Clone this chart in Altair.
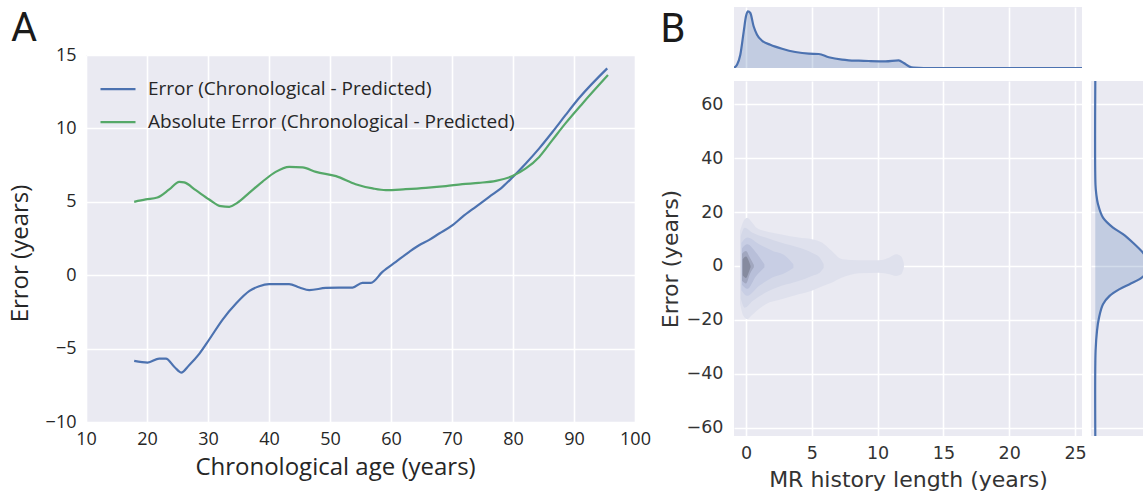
import altair as alt
import pandas as pd

BG = "#EAEAF2"
BLUE = "#4C72B0"
GREEN = "#55A868"
TXT = "#262626"

# ---------------- Panel A data ----------------
SERIES = ["Error (Chronological - Predicted)", "Absolute Error (Chronological - Predicted)"]
err_age = [17.9, 20.1, 22.0, 23.1, 24.5, 25.6, 26.9, 28.6, 30.2, 32.4, 34.6, 36.8, 38.4, 40.0, 43.3,
           45.0, 46.6, 49.3, 51.5, 53.7, 55.3, 56.7, 58.6, 60.8, 63.0, 64.6, 66.2, 67.9, 70.1, 71.7,
           73.9, 76.1, 78.3, 79.9, 82.1, 84.3, 86.5, 88.6, 90.8, 95.45]
err_val = [-5.84, -5.95, -5.68, -5.68, -6.25, -6.63, -6.13, -5.34, -4.38, -3.02, -1.93, -1.07, -0.75,
           -0.61, -0.61, -0.84, -1.02, -0.87, -0.84, -0.84, -0.52, -0.52, 0.23, 0.91, 1.59, 2.04, 2.39,
           2.84, 3.41, 3.97, 4.66, 5.34, 6.02, 6.66, 7.61, 8.64, 9.77, 10.9, 12.05, 14.09]
abs_age = [17.9, 19.8, 21.7, 23.65, 25.3, 26.1, 28.0, 30.2, 32.1, 33.5, 34.8, 36.75, 38.9, 41.1, 43.3,
           45.5, 47.7, 51.0, 54.2, 57.0, 59.15, 62.4, 65.7, 69.0, 71.7, 74.4, 77.2, 79.9, 82.1, 84.3,
           86.45, 88.6, 91.4, 95.57]
abs_val = [5.0, 5.16, 5.29, 5.84, 6.36, 6.32, 5.79, 5.16, 4.70, 4.66, 4.93, 5.61, 6.36, 7.04, 7.38,
           7.34, 7.04, 6.75, 6.2, 5.91, 5.79, 5.86, 5.95, 6.07, 6.2, 6.29, 6.43, 6.75, 7.27, 8.06,
           9.2, 10.34, 11.7, 13.63]
a_xticks = [10, 20, 30, 40, 50, 60, 70, 80, 90, 100]
a_yticks = [-10, -5, 0, 5, 10, 15]

# ---------------- Panel B data ----------------
# top marginal: KDE of MR history length (relative density units)
mr_len = [-0.94, -0.68, -0.43, -0.17, 0.0, 0.15, 0.33, 0.58, 0.84, 1.22, 1.85, 2.74, 3.75, 4.77, 5.53,
          6.29, 7.3, 7.81, 8.57, 9.33, 10.6, 11.6, 11.99, 12.37, 12.75, 13.5, 25.6]
mr_dens = [0, 3.3, 13.3, 36.7, 51.7, 56.7, 55, 41.7, 33.3, 27.3, 23.3, 19.3, 16, 14.3, 14,
           10.7, 8.3, 7.7, 7.3, 7, 6.7, 7.7, 5, 1.7, 0.3, 0, 0]
# right marginal: KDE of error (relative density units)
err_grid = [68.6, 30, 26.6, 22.9, 17.9, 14.2, 11.8, 8.6, 4.9, 3.3, 1.5, 0.0, -1.5, -3.1, -4.9, -6.8,
            -8.6, -11.1, -14.2, -19.2, -24.1, -31.5, -63.1]
err_dens = [0, 0.2, 1, 2.7, 7.7, 17.7, 27.7, 37.7, 47.7, 50.7, 56, 58, 56, 50.7, 44.3, 34.3,
            24.3, 14.3, 7.7, 3.7, 1.7, 0.3, 0]
# bivariate KDE contour levels: (MR length, upper error, lower error)
lev1_x = [-0.45, -0.2, 0.1, 0.4, 0.8, 1.5, 2.7, 4.0, 5.0, 5.8, 6.5, 7.3, 8.6, 10.1, 10.9, 11.4, 11.8, 12.0]
lev1_hi = [13, 16.5, 17.9, 16.5, 14.2, 12.9, 11.7, 10.5, 9.9, 8.6, 5.6, 2.5, 2.1, 2.1, 3.1, 4.3, 3.5, 0.8]
lev1_lo = [-14, -18.5, -19.8, -18.5, -16.7, -14.2, -12.4, -10.5, -9.2, -7.5, -6.2, -4.3, -2.7, -2.5,
           -3.1, -3.7, -3.1, -0.5]
lev2_x = [-0.4, -0.1, 0.5, 1.5, 2.7, 4.0, 5.0, 5.6, 5.9]
lev2_hi = [11, 14.2, 12.3, 10.5, 8.6, 6.8, 4.9, 3.1, 0.6]
lev2_lo = [-12, -15.5, -13.0, -9.9, -7.4, -5.6, -3.7, -2.5, -0.8]
lev3_x = [-0.35, 0.1, 1.0, 2.0, 3.0, 3.6]
lev3_hi = [8.5, 10.5, 8.0, 5.6, 3.7, 0.6]
lev3_lo = [-9, -11.1, -7.4, -4.3, -2.5, -0.8]
lev4_x = [-0.3, 0.1, 0.77, 1.4]
lev4_hi = [6.5, 8.0, 4.9, 0.6]
lev4_lo = [-7.0, -8.5, -3.7, -0.6]
lev5_x = [-0.3, 0.0, 0.3, 0.6]
lev5_hi = [4.5, 5.5, 3.0, 0.3]
lev5_lo = [-5.5, -6.5, -3.0, -0.5]
lev6_x = [-0.25, 0.0, 0.2, 0.35]
lev6_hi = [2.5, 3.5, 2.0, 0.0]
lev6_lo = [-3.5, -4.5, -2.5, -0.5]
LEVEL_COLORS = ["#dfe1ed", "#d4d8e8", "#c8cee4", "#b8bfd9", "#a1a7bf", "#868b9f"]
b_xticks = [0, 5, 10, 15, 20, 25]
b_yticks = [-60, -40, -20, 0, 20, 40, 60]

# ---------------- Panel A ----------------
dfA = pd.concat([
    pd.DataFrame({"age": err_age, "val": err_val, "series": SERIES[0]}),
    pd.DataFrame({"age": abs_age, "val": abs_val, "series": SERIES[1]}),
])

A_W, A_H = 549, 367
fontA = "Open Sans"
fontB = "DejaVu Sans"
fontLetter = "Roboto"

linesA = alt.Chart(dfA).mark_line(strokeWidth=2.2, interpolate="monotone").encode(
    x=alt.X("age:Q", scale=alt.Scale(domain=[10, 100], nice=False, zero=False),
            axis=alt.Axis(values=a_xticks, title="Chronological age (years)", grid=True,
                          gridColor="white", gridWidth=1.6, domain=False, ticks=False,
                          labelFont=fontA, labelFontSize=18, labelColor=TXT, labelPadding=8,
                          labelFlush=False, labelOverlap=False,
                          titleFont=fontA, titleFontSize=24, titleFontWeight="normal",
                          titleColor=TXT, titlePadding=7, titleX=249)),
    y=alt.Y("val:Q", scale=alt.Scale(domain=[-10, 15], nice=False, zero=False),
            axis=alt.Axis(values=a_yticks, title="Error (years)", grid=True,
                          gridColor="white", gridWidth=1.6, domain=False, ticks=False,
                          labelFont=fontA, labelFontSize=18, labelColor=TXT, labelPadding=10,
                          labelFlush=False, labelOverlap=False,
                          titleFont=fontA, titleFontSize=24, titleFontWeight="normal",
                          titleColor=TXT, titlePadding=13, titleY=198)),
    color=alt.Color("series:N", scale=alt.Scale(domain=SERIES, range=[BLUE, GREEN]),
                    legend=alt.Legend(title=None, orient="none", legendX=13, legendY=66,
                                      symbolType="stroke", symbolSize=1225, symbolStrokeWidth=2.2,
                                      labelFont=fontA, labelFontSize=19, labelColor=TXT,
                                      labelOffset=11, rowPadding=0, clipHeight=32.4,
                                      padding=0, labelLimit=500)),
)

letterA = alt.Chart(pd.DataFrame({"t": ["A"]})).mark_text(
    font=fontLetter, fontSize=40, color="#1a1a1a", align="center", baseline="middle"
).encode(x=alt.value(-62), y=alt.value(-26), text="t:N")

A_main = alt.layer(linesA, letterA).properties(
    width=A_W, height=A_H, view=alt.ViewBackground(fill=BG, strokeWidth=0))

spacer = alt.Chart(pd.DataFrame({"v": [0]})).mark_point(opacity=0, size=1).encode(
    x=alt.value(0), y=alt.value(0)).properties(width=A_W, height=1)

panelA = alt.vconcat(spacer, A_main, spacing=1)

# ---------------- Panel B ----------------
BX_DOM = [-0.91, 25.53]
BY_DOM = [-63.1, 68.6]
B_W, B_H = 348, 355

def grid_axis(vals):
    return alt.Axis(values=vals, labels=False, ticks=False, domain=False, title=None,
                    grid=True, gridColor="white", gridWidth=1.6)

dfTop = pd.DataFrame({"mr": mr_len, "d": mr_dens})
topArea = alt.Chart(dfTop).mark_area(
    color=BLUE, fillOpacity=0.25, interpolate="monotone", clip=True,
    line={"color": BLUE, "strokeWidth": 2.2}
).encode(
    x=alt.X("mr:Q", scale=alt.Scale(domain=BX_DOM, nice=False, zero=False), axis=grid_axis(b_xticks)),
    y=alt.Y("d:Q", scale=alt.Scale(domain=[0, 61], nice=False), axis=None),
)
letterB = alt.Chart(pd.DataFrame({"t": ["B"]})).mark_text(
    font=fontLetter, fontSize=40, color="#1a1a1a", align="center", baseline="middle"
).encode(x=alt.value(-61), y=alt.value(23), text="t:N")
B_top = alt.layer(topArea, letterB).properties(
    width=B_W, height=61, view=alt.ViewBackground(fill=BG, strokeWidth=0))

levels = [(lev1_x, lev1_hi, lev1_lo), (lev2_x, lev2_hi, lev2_lo), (lev3_x, lev3_hi, lev3_lo),
          (lev4_x, lev4_hi, lev4_lo), (lev5_x, lev5_hi, lev5_lo), (lev6_x, lev6_hi, lev6_lo)]
lev_frames = []
for i, (xs, his, los) in enumerate(levels):
    lev_frames.append(pd.DataFrame({"mr": xs, "hi": his, "lo": los, "level": i + 1}))
dfLev = pd.concat(lev_frames)

contour_layers = []
for i in range(len(levels)):
    contour_layers.append(
        alt.Chart(dfLev).transform_filter(alt.datum.level == i + 1).mark_area(
            color=LEVEL_COLORS[i], interpolate="monotone", opacity=1
        ).encode(
            x=alt.X("mr:Q", scale=alt.Scale(domain=BX_DOM, nice=False, zero=False),
                    axis=alt.Axis(values=b_xticks, title="MR history length (years)", grid=True,
                                  gridColor="white", gridWidth=1.6, domain=False, ticks=False,
                                  labelFont=fontB, labelFontSize=17.5, labelColor="#333333",
                                  labelPadding=8, labelFlush=False, labelOverlap=False,
                                  titleFont=fontB, titleFontSize=22, titleFontWeight="normal",
                                  titleColor="#333333", titlePadding=8)),
            y=alt.Y("hi:Q", scale=alt.Scale(domain=BY_DOM, nice=False, zero=False),
                    axis=alt.Axis(values=b_yticks, title="Error (years)", grid=True,
                                  gridColor="white", gridWidth=1.6, domain=False, ticks=False,
                                  labelFont=fontB, labelFontSize=17.5, labelColor="#333333",
                                  labelPadding=11, labelFlush=False, labelOverlap=False,
                                  titleFont=fontB, titleFontSize=22, titleFontWeight="normal",
                                  titleColor="#333333", titlePadding=4)),
            y2="lo:Q",
        )
    )
B_main = alt.layer(*contour_layers).properties(
    width=B_W, height=B_H, view=alt.ViewBackground(fill=BG, strokeWidth=0))

dfRight = pd.DataFrame({"e": err_grid, "d": err_dens})
dfRight["base"] = 0
RD_DOM = [-4.3, 47.7]
rightArea = alt.Chart(dfRight).mark_area(
    color=BLUE, fillOpacity=0.25, interpolate="catmull-rom", clip=True, orient="horizontal"
).encode(
    y=alt.Y("e:Q", scale=alt.Scale(domain=BY_DOM, nice=False, zero=False), axis=grid_axis(b_yticks)),
    x=alt.X("d:Q", scale=alt.Scale(domain=RD_DOM, nice=False, zero=False), axis=None),
    x2="base:Q",
)
rightLine = alt.Chart(dfRight).mark_line(
    color=BLUE, strokeWidth=2.2, interpolate="catmull-rom", clip=True
).encode(
    y=alt.Y("e:Q", scale=alt.Scale(domain=BY_DOM, nice=False, zero=False), axis=grid_axis(b_yticks)),
    x=alt.X("d:Q", scale=alt.Scale(domain=RD_DOM, nice=False, zero=False), axis=None),
    order=alt.Order("e:Q"),
)
B_right = alt.layer(rightArea, rightLine).properties(
    width=52, height=B_H, view=alt.ViewBackground(fill=BG, strokeWidth=0))

panelB = alt.vconcat(B_top, alt.hconcat(B_main, B_right, spacing=4), spacing=13)

chart = alt.hconcat(panelA, panelB, spacing=8).properties(
    padding={"left": 8, "top": 6, "right": 0, "bottom": 0}
).resolve_scale(x="independent", y="independent", color="independent").configure(
    background="white"
).configure_view(strokeWidth=0)

chart.save("out.html", embed_options={"renderer": "svg", "actions": False})
